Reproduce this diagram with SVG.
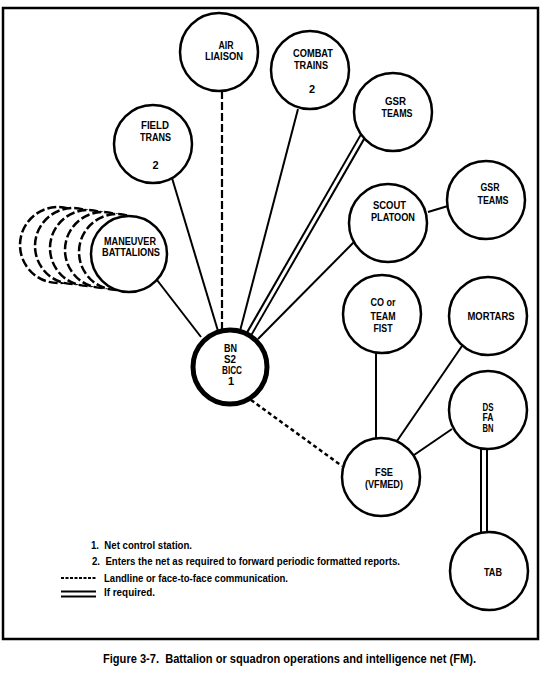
<svg xmlns="http://www.w3.org/2000/svg" width="547" height="673" viewBox="0 0 547 673">
<style>
.n{fill:#fff;stroke:#000;stroke-width:2.5}
.b{fill:#fff;stroke:#000;stroke-width:2.5;stroke-dasharray:9 3}
.t{font-family:"Liberation Sans Narrow","Liberation Sans","DejaVu Sans Condensed",sans-serif;font-weight:bold;font-size:11px;text-anchor:middle;fill:#000}
.l{font-family:"Liberation Sans Narrow","Liberation Sans","DejaVu Sans Condensed",sans-serif;font-weight:bold;font-size:11px;fill:#000;white-space:pre}
.c{font-family:"Liberation Sans Narrow","Liberation Sans","DejaVu Sans Condensed",sans-serif;font-weight:bold;font-size:13px;fill:#000;white-space:pre}
.s{stroke:#000;stroke-width:2;fill:none}
.d{stroke:#000;stroke-width:2.2;fill:none;stroke-dasharray:8 3}
.ds{stroke:#000;stroke-width:2.5;fill:none;stroke-dasharray:4 3}
.wo{stroke:#000;stroke-width:7;fill:none}
.wi{stroke:#fff;stroke-width:3;fill:none}
</style>
<rect x="3" y="8" width="535" height="631" fill="#fff" stroke="#000" stroke-width="2.5"/>
<g id="connectors">
<line class="s" x1="157" y1="280" x2="201" y2="337"/>
<line class="s" x1="172" y1="178" x2="218" y2="331"/>
<line class="d" x1="222" y1="91" x2="222" y2="329"/>
<line class="s" x1="298" y1="109" x2="240" y2="331"/>
<line class="wo" x1="363" y1="136" x2="249" y2="334"/>
<line class="wi" x1="364" y1="134" x2="248" y2="336"/>
<line class="s" x1="354" y1="242" x2="258" y2="339"/>
<line class="s" x1="428" y1="212" x2="448" y2="206"/>
<line class="ds" x1="251" y1="400" x2="342" y2="466"/>
<line class="s" x1="376" y1="353" x2="376" y2="439"/>
<line class="s" x1="462" y1="346" x2="397" y2="441"/>
<line class="s" x1="452" y1="429" x2="414" y2="455"/>
<line stroke="#000" stroke-width="8" x1="484" y1="447" x2="484" y2="533"/>
<line stroke="#fff" stroke-width="4" x1="484" y1="445" x2="484" y2="535"/>
</g>
<g id="air-liaison">
<circle class="n" cx="219" cy="52" r="39"/>
<text class="t" x="226" y="49" textLength="15" lengthAdjust="spacingAndGlyphs">AIR</text>
<text class="t" x="224" y="60" textLength="38" lengthAdjust="spacingAndGlyphs">LIAISON</text>
</g>
<g id="combat-trains">
<circle class="n" cx="310" cy="70" r="39"/>
<text class="t" x="313" y="57" textLength="40" lengthAdjust="spacingAndGlyphs">COMBAT</text>
<text class="t" x="311" y="69" textLength="34" lengthAdjust="spacingAndGlyphs">TRAINS</text>
<text class="t" x="312" y="93">2</text>
</g>
<g id="gsr-teams-1">
<circle class="n" cx="393" cy="112" r="39"/>
<text class="t" x="395.5" y="105" textLength="21" lengthAdjust="spacingAndGlyphs">GSR</text>
<text class="t" x="397" y="117" textLength="31" lengthAdjust="spacingAndGlyphs">TEAMS</text>
</g>
<g id="field-trans">
<circle class="n" cx="153" cy="144" r="39"/>
<text class="t" x="155" y="129" textLength="28" lengthAdjust="spacingAndGlyphs">FIELD</text>
<text class="t" x="155.5" y="141" textLength="31" lengthAdjust="spacingAndGlyphs">TRANS</text>
<text class="t" x="155.5" y="169">2</text>
</g>
<g id="scout-platoon">
<circle class="n" cx="388" cy="223" r="39"/>
<text class="t" x="389.5" y="209" textLength="33" lengthAdjust="spacingAndGlyphs">SCOUT</text>
<text class="t" x="393" y="221" textLength="44" lengthAdjust="spacingAndGlyphs">PLATOON</text>
</g>
<g id="gsr-teams-2">
<circle class="n" cx="486" cy="200" r="39"/>
<text class="t" x="490" y="191" textLength="19" lengthAdjust="spacingAndGlyphs">GSR</text>
<text class="t" x="493" y="204" textLength="31" lengthAdjust="spacingAndGlyphs">TEAMS</text>
</g>
<g id="maneuver-battalions">
<circle class="b" cx="58" cy="245" r="38"/>
<circle class="b" cx="73" cy="246" r="38"/>
<circle class="b" cx="88" cy="248" r="38"/>
<circle class="b" cx="103" cy="250" r="38"/>
<circle class="b" cx="117" cy="252" r="38"/>
<circle class="n" cx="129" cy="254" r="38"/>
<text class="t" x="130" y="245" textLength="52" lengthAdjust="spacingAndGlyphs">MANEUVER</text>
<text class="t" x="131" y="256" textLength="58" lengthAdjust="spacingAndGlyphs">BATTALIONS</text>
</g>
<g id="co-team-fist">
<circle class="n" cx="382" cy="314" r="39"/>
<text class="t" x="383" y="306" textLength="25" lengthAdjust="spacingAndGlyphs">CO or</text>
<text class="t" x="383" y="320" textLength="25" lengthAdjust="spacingAndGlyphs">TEAM</text>
<text class="t" x="383" y="332" textLength="19" lengthAdjust="spacingAndGlyphs">FIST</text>
</g>
<g id="mortars">
<circle class="n" cx="488" cy="316" r="39"/>
<text class="t" x="491" y="320" textLength="47" lengthAdjust="spacingAndGlyphs">MORTARS</text>
</g>
<g id="bn-s2-bicc">
<circle fill="#fff" stroke="#000" stroke-width="5" cx="230" cy="367" r="37"/>
<text class="t" x="230.5" y="352" textLength="13" lengthAdjust="spacingAndGlyphs">BN</text>
<text class="t" x="230" y="363" textLength="12" lengthAdjust="spacingAndGlyphs">S2</text>
<text class="t" x="232" y="374" textLength="20" lengthAdjust="spacingAndGlyphs">BICC</text>
<text class="t" x="231" y="385">1</text>
</g>
<g id="ds-fa-bn">
<circle class="n" cx="488" cy="410" r="39"/>
<text class="t" x="488" y="410.5" font-size="10.5" textLength="11" lengthAdjust="spacingAndGlyphs">DS</text>
<text class="t" x="488" y="421" font-size="10.5" textLength="11" lengthAdjust="spacingAndGlyphs">FA</text>
<text class="t" x="488" y="431.5" font-size="10.5" textLength="11" lengthAdjust="spacingAndGlyphs">BN</text>
</g>
<g id="fse-vfmed">
<circle class="n" cx="381" cy="477" r="39"/>
<text class="t" x="384" y="476" textLength="18" lengthAdjust="spacingAndGlyphs">FSE</text>
<text class="t" x="384" y="488" textLength="38" lengthAdjust="spacingAndGlyphs">(VFMED)</text>
</g>
<g id="tab">
<circle class="n" cx="489" cy="571" r="39"/>
<text class="t" x="493" y="576" textLength="18" lengthAdjust="spacingAndGlyphs">TAB</text>
</g>
<g id="legend">
<text class="l" x="91" y="549" textLength="101" lengthAdjust="spacingAndGlyphs">1.  Net control station.</text>
<text class="l" x="92" y="565" textLength="308" lengthAdjust="spacingAndGlyphs">2.  Enters the net as required to forward periodic formatted reports.</text>
<line stroke="#000" stroke-width="2" stroke-dasharray="3 1.5" x1="61" y1="578" x2="96" y2="578"/>
<text class="l" x="104" y="582" textLength="184" lengthAdjust="spacingAndGlyphs">Landline or face-to-face communication.</text>
<line stroke="#000" stroke-width="7" x1="61" y1="594" x2="96" y2="594"/>
<line stroke="#fff" stroke-width="3" x1="60" y1="594" x2="97" y2="594"/>
<text class="l" x="104" y="596" textLength="51" lengthAdjust="spacingAndGlyphs">If required.</text>
</g>
<text class="c" x="103" y="663" textLength="373" lengthAdjust="spacingAndGlyphs">Figure 3-7.  Battalion or squadron operations and intelligence net (FM).</text>
</svg>
